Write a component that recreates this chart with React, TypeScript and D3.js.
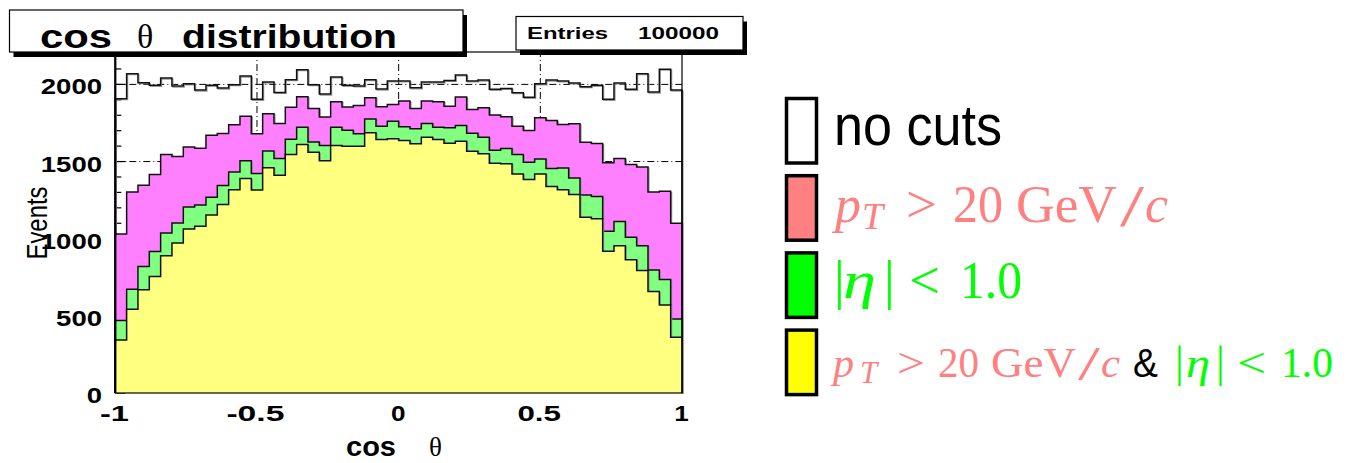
import React, {useEffect, useRef} from 'react';
import * as d3 from 'd3';

// cos(theta) histograms, 50 bins from -1 to 1
const binEdges = d3.range(51).map((i) => -1 + i * 0.04);

const noCuts = [1907, 2069, 2011, 1994, 2041, 1989, 2004, 1963, 1994, 1976,
    1998, 2054, 1903, 2015, 1948, 2030, 2095, 1998, 1937, 2048,
    1994, 1990, 2030, 1970, 2022, 2022, 1978, 2015, 2015, 2026,
    2061, 2022, 2028, 1968, 1974, 1946, 1916, 2004, 2028, 2022,
    2009, 1985, 1994, 1903, 2009, 1968, 2069, 1950, 2099, 1963];

const ptCut = [1030, 1303, 1346, 1416, 1545, 1532, 1595, 1586, 1671, 1682,
    1738, 1794, 1680, 1810, 1747, 1852, 1920, 1844, 1788, 1888,
    1853, 1864, 1914, 1855, 1870, 1892, 1844, 1892, 1888, 1859,
    1918, 1838, 1849, 1801, 1790, 1729, 1701, 1784, 1766, 1740,
    1745, 1625, 1617, 1492, 1519, 1481, 1465, 1303, 1307, 1100];

const etaCut = [470, 673, 820, 917, 1037, 1102, 1206, 1219, 1268, 1344,
    1433, 1505, 1422, 1569, 1520, 1645, 1723, 1627, 1604, 1723,
    1703, 1680, 1775, 1729, 1762, 1725, 1712, 1747, 1723, 1719,
    1734, 1684, 1658, 1573, 1584, 1545, 1495, 1517, 1455, 1459,
    1394, 1283, 1273, 1048, 1112, 1009, 955, 797, 736, 480];

const bothCuts = [344, 543, 669, 755, 890, 972, 1063, 1080, 1154, 1221,
    1318, 1390, 1315, 1460, 1411, 1545, 1610, 1560, 1506, 1604,
    1599, 1599, 1686, 1643, 1647, 1636, 1615, 1658, 1643, 1619,
    1632, 1567, 1550, 1489, 1485, 1420, 1383, 1420, 1338, 1318,
    1286, 1139, 1130, 918, 955, 864, 794, 658, 571, 362];

const yTicks = [0, 500, 1000, 1500, 2000];
const yTickLabels = ['0', '500', '1000', '1500', '2000'];
const xTicks = [-1, -0.5, 0, 0.5, 1];
const xTickLabels = ['-1', '-0.5', '0', '0.5', '1'];
const yGrid = [1500, 2000];
const xGrid = [-0.5, 0, 0.5];

const histFills = ['none', '#ff80ff', '#80ff80', '#ffff80'];
const legendFills = ['#ffffff', '#ff8080', '#00ff00', '#ffff00'];

const pink = '#ff8080';
const green = '#00ff00';

const App = () => {
    const anchor = useRef(null);

    useEffect(() => {
        const svg = d3.select(anchor.current);
        svg.selectAll('*').remove();

        const x = d3.scaleLinear().domain([-1, 1]).range([115.3, 682]);
        const y = d3.scaleLinear().domain([0, 2210]).range([393, 52]);

        const sans = 'Liberation Sans, Arial, sans-serif';
        const serif = 'Liberation Serif, Times New Roman, serif';

        // grid (dash-dot)
        const grid = svg.append('g').attr('stroke', '#000').attr('stroke-width', 1)
            .attr('stroke-dasharray', '7,3,1,3');
        grid.selectAll('.gy').data(yGrid).enter().append('line')
            .attr('x1', x(-1)).attr('x2', x(1))
            .attr('y1', (d) => y(d)).attr('y2', (d) => y(d));
        grid.selectAll('.gx').data(xGrid).enter().append('line')
            .attr('x1', (d) => x(d)).attr('x2', (d) => x(d))
            .attr('y1', y(0)).attr('y2', y.range()[1]);

        // y ticks pointing inwards
        const yMinor = d3.range(0, 2201, 100);
        svg.append('g').selectAll('line').data(yMinor).enter().append('line')
            .attr('x1', x(-1)).attr('x2', (d) => x(-1) + (d % 500 === 0 ? 10 : 6))
            .attr('y1', (d) => y(d)).attr('y2', (d) => y(d))
            .attr('stroke', '#000').attr('stroke-width', 1.2);

        // histograms, drawn as steps from the baseline
        const stepLine = d3.line()
            .x((d) => x(d[0]))
            .y((d) => y(d[1]))
            .curve(d3.curveStepAfter);

        const histPoints = (vals) => {
            const pts = [[binEdges[0], 0]];
            vals.forEach((v, i) => pts.push([binEdges[i], v]));
            pts.push([binEdges[50], vals[vals.length - 1]]);
            pts.push([binEdges[50], 0]);
            return pts;
        };

        const series = [noCuts, ptCut, etaCut, bothCuts];
        series.forEach((vals, i) => {
            const d = stepLine(histPoints(vals));
            // soft grey shadow under the outline
            svg.append('path').attr('d', d)
                .attr('transform', 'translate(1,1)')
                .attr('fill', 'none').attr('stroke', '#999').attr('stroke-width', 1.2);
            svg.append('path').attr('d', d)
                .attr('fill', histFills[i] === 'none' ? 'none' : histFills[i])
                .attr('stroke', '#111').attr('stroke-width', 1.5);
        });

        // frame
        svg.append('rect')
            .attr('x', x(-1)).attr('y', y.range()[1])
            .attr('width', x(1) - x(-1)).attr('height', y(0) - y.range()[1])
            .attr('fill', 'none').attr('stroke', '#000').attr('stroke-width', 1.2);
        svg.append('line').attr('x1', x(-1)).attr('x2', x(-1))
            .attr('y1', y.range()[1]).attr('y2', y(0))
            .attr('stroke', '#000').attr('stroke-width', 2.2);

        // y tick labels
        svg.append('g').selectAll('text').data(yTicks).enter().append('text')
            .attr('x', 102).attr('y', (d) => y(d) + 10)
            .attr('text-anchor', 'end')
            .attr('font-family', sans).attr('font-weight', 'bold').attr('font-size', 21.5)
            .attr('textLength', (d, i) => yTickLabels[i].length * 15.3)
            .attr('lengthAdjust', 'spacingAndGlyphs')
            .text((d, i) => yTickLabels[i]);

        // x tick labels
        svg.append('g').selectAll('text').data(xTicks).enter().append('text')
            .attr('x', (d) => x(d) - (xTickLabels[xTicks.indexOf(d)].length * 15.3) / 2)
            .attr('y', 421)
            .attr('font-family', sans).attr('font-weight', 'bold').attr('font-size', 21.5)
            .attr('textLength', (d, i) => xTickLabels[i].length * 14.5)
            .attr('lengthAdjust', 'spacingAndGlyphs')
            .text((d, i) => xTickLabels[i]);

        // axis titles
        svg.append('text').attr('x', 346).attr('y', 456)
            .attr('font-family', sans).attr('font-weight', 'bold').attr('font-size', 27)
            .attr('textLength', 50).attr('lengthAdjust', 'spacingAndGlyphs')
            .text('cos');
        svg.append('text').attr('x', 429).attr('y', 456)
            .attr('font-family', serif).attr('font-size', 27)
            .text('θ');
        svg.append('text')
            .attr('transform', 'translate(47,223) scale(1.3,1) rotate(-90)')
            .attr('text-anchor', 'middle')
            .attr('font-family', sans).attr('font-size', 22)
            .attr('textLength', 73).attr('lengthAdjust', 'spacingAndGlyphs')
            .text('Events');

        // title box
        const box = (bx, by, bw, bh) => {
            svg.append('rect').attr('x', bx + 4).attr('y', by + 5).attr('width', bw).attr('height', bh)
                .attr('fill', '#000');
            svg.append('rect').attr('x', bx).attr('y', by).attr('width', bw).attr('height', bh)
                .attr('fill', '#fff').attr('stroke', '#000').attr('stroke-width', 1.2);
        };
        box(9.5, 10, 453.5, 42);
        svg.append('text').attr('x', 40).attr('y', 47.5)
            .attr('font-family', sans).attr('font-weight', 'bold').attr('font-size', 33)
            .attr('textLength', 72).attr('lengthAdjust', 'spacingAndGlyphs').text('cos');
        svg.append('text').attr('x', 137).attr('y', 47.5)
            .attr('font-family', serif).attr('font-size', 34).text('θ');
        svg.append('text').attr('x', 182).attr('y', 47.5)
            .attr('font-family', sans).attr('font-weight', 'bold').attr('font-size', 33)
            .attr('textLength', 215).attr('lengthAdjust', 'spacingAndGlyphs').text('distribution');

        // stats box
        box(516, 16.5, 227, 33.5);
        svg.append('text').attr('x', 527).attr('y', 38.5)
            .attr('font-family', sans).attr('font-weight', 'bold').attr('font-size', 17)
            .attr('textLength', 81).attr('lengthAdjust', 'spacingAndGlyphs').text('Entries');
        svg.append('text').attr('x', 638).attr('y', 38.5)
            .attr('font-family', sans).attr('font-weight', 'bold').attr('font-size', 17)
            .attr('textLength', 81).attr('lengthAdjust', 'spacingAndGlyphs').text('100000');

        // legend boxes
        const leg = svg.append('g');
        leg.selectAll('rect').data(legendFills).enter().append('rect')
            .attr('x', 786.5).attr('y', (d, i) => 98.5 + i * 77.2)
            .attr('width', 30).attr('height', 64.5)
            .attr('fill', (d) => d).attr('stroke', '#000').attr('stroke-width', 3.5);

        leg.append('text').attr('x', 834).attr('y', 145)
            .attr('font-family', sans).attr('font-size', 57)
            .attr('textLength', 168).attr('lengthAdjust', 'spacingAndGlyphs')
            .text('no cuts');

        // little helper for the TeX-like pieces
        const piece = (px, py, str, size, color, opts = {}) => {
            const t = leg.append('text').attr('x', px).attr('y', py)
                .attr('font-family', opts.sans ? sans : serif)
                .attr('font-size', size).attr('fill', color)
                .attr('font-style', opts.italic ? 'italic' : 'normal')
                .text(str);
            if (opts.len) t.attr('textLength', opts.len).attr('lengthAdjust', 'spacingAndGlyphs');
            return t;
        };

        // pT > 20 GeV/c
        piece(835, 221.5, 'p', 52, pink, {italic: true});
        piece(862, 228.5, 'T', 38, pink, {italic: true});
        piece(906, 221.5, '>', 52, pink, {len: 31});
        piece(953, 221.5, '20', 52, pink, {len: 50});
        piece(1016, 221.5, 'GeV', 52, pink, {len: 101});
        piece(1120, 226, '/', 60, pink, {len: 24});
        piece(1145, 221.5, 'c', 52, pink, {italic: true, len: 23});

        // |eta| < 1.0
        piece(834, 298, '|', 54, green);
        piece(843, 298, 'η', 52, green, {italic: true, len: 33});
        piece(884, 298, '|', 54, green);
        piece(909, 298, '<', 52, green, {len: 31});
        piece(960, 298, '1.0', 52, green, {len: 62});

        // both
        piece(833, 376.5, 'p', 42, pink, {italic: true});
        piece(860, 382.5, 'T', 31, pink, {italic: true});
        piece(897, 376.5, '>', 42, pink, {len: 28});
        piece(938, 376.5, '20', 42, pink, {len: 41});
        piece(991, 376.5, 'GeV', 42, pink, {len: 85});
        piece(1078, 380, '/', 49, pink, {len: 22});
        piece(1101, 376.5, 'c', 42, pink, {italic: true, len: 19});
        piece(1133, 376.5, '&', 40, '#000', {sans: true, len: 25});
        piece(1175, 376.5, '|', 44, green);
        piece(1186, 376.5, 'η', 42, green, {italic: true, len: 24});
        piece(1216, 376.5, '|', 44, green);
        piece(1237, 376.5, '<', 42, green, {len: 29});
        piece(1281, 376.5, '1.0', 42, green, {len: 52});
    }, []);

    return <svg ref={anchor} width={1353} height={463}
                style={{position: 'absolute', left: 0, top: 0, background: '#fff'}}/>;
};

export default App;
